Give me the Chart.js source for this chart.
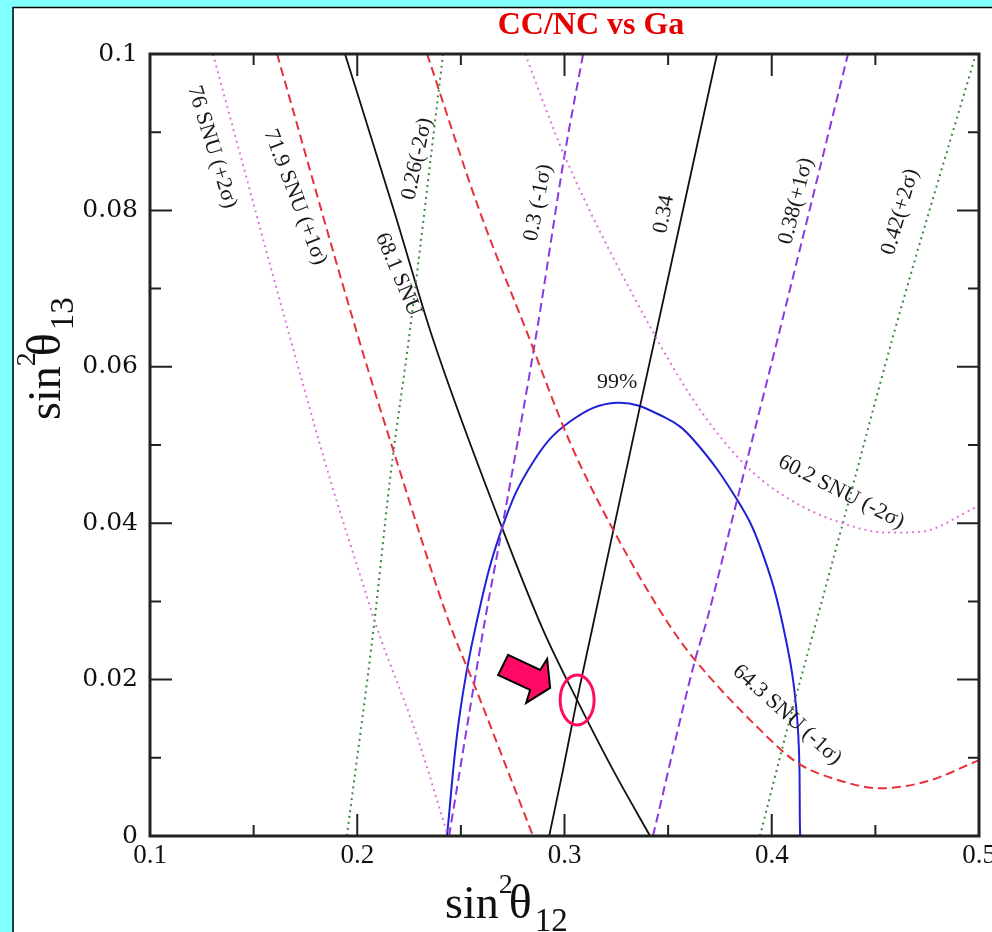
<!DOCTYPE html>
<html>
<head>
<meta charset="utf-8">
<title>CC/NC vs Ga</title>
<script src="https://cdn.jsdelivr.net/npm/chart.js@4.4.1/dist/chart.umd.min.js"></script>
<style>
  html, body { margin: 0; padding: 0; background: #80ffff; }
  canvas { display: block; }
</style>
</head>
<body>
<canvas id="grafico" width="992" height="932"></canvas>
<script>
// [sin^2 theta12, sin^2 theta13] along each contour
const cl99   = [[0.2433,0],[0.2491,0.0149],[0.2573,0.027],[0.2699,0.0394],[0.2848,0.0478],[0.3027,0.053],[0.3254,0.0554],[0.3486,0.0535],[0.3621,0.0507],[0.3833,0.043],[0.3944,0.037],[0.4055,0.0268],[0.4123,0.0149],[0.4137,0]];
const ga681  = [[0.1941,0.1],[0.2177,0.08],[0.2366,0.0635],[0.2699,0.0394],[0.2896,0.0264],[0.306,0.0174],[0.3234,0.00845],[0.3413,0]];
const ga719  = [[0.1613,0.1],[0.2,0.0642],[0.2192,0.0478],[0.2445,0.0272],[0.2568,0.0191],[0.2848,0]];
const ga760  = [[0.1304,0.1],[0.1671,0.0642],[0.1869,0.0456],[0.2047,0.0306],[0.2086,0.0273],[0.2289,0.0127],[0.2438,0]];
const ga643  = [[0.2337,0.1],[0.2592,0.0798],[0.2819,0.0644],[0.3027,0.0503],[0.3234,0.0392],[0.351,0.0268],[0.363,0.0225],[0.3943,0.0136],[0.4127,0.0093],[0.4315,0.0072],[0.4522,0.0061],[0.475,0.007],[0.5,0.0097]];
const ga602  = [[0.281,0.1],[0.3003,0.0868],[0.3447,0.0635],[0.3654,0.0545],[0.3881,0.0472],[0.4089,0.043],[0.433,0.0401],[0.4557,0.0388],[0.4716,0.0389],[0.4991,0.0421]];
const ccnc034 = [[0.2926,0],[0.2993,0.00845],[0.306,0.0174],[0.3133,0.0264],[0.3364,0.0549],[0.3446,0.0648],[0.3736,0.1]];
const ccnc030 = [[0.2443,0],[0.2617,0.0277],[0.2699,0.0394],[0.2868,0.0648],[0.3003,0.0875],[0.309,0.1]];
const ccnc038 = [[0.3427,0],[0.363,0.0225],[0.3688,0.0277],[0.3833,0.043],[0.404,0.0648],[0.4368,0.1]];
const ccnc026 = [[0.195,0],[0.2081,0.027],[0.2158,0.0456],[0.2255,0.0648],[0.2414,0.1]];
const ccnc042 = [[0.3943,0],[0.4074,0.0136],[0.4218,0.0277],[0.4344,0.0401],[0.4595,0.0648],[0.4985,0.1]];

const xTickLabels = ['0.1', '0.2', '0.3', '0.4', '0.5'];
const yTickLabels = ['0', '0.02', '0.04', '0.06', '0.08', '0.1'];

// crossing of the two central lines (68.1 SNU and 0.34)
const bestFit = { x: 0.3061, y: 0.0174 };

const curveLabels = [
  { text: '76 SNU (+2σ)',   x: 0.1299, y: 0.0881, rot: 73 },
  { text: '71.9 SNU (+1σ)', x: 0.1700, y: 0.0817, rot: 69 },
  { text: '68.1 SNU',       x: 0.2197, y: 0.0718, rot: 67 },
  { text: '0.26(-2σ)',      x: 0.2289, y: 0.0866, rot: -78 },
  { text: '0.3 (-1σ)',      x: 0.2873, y: 0.0810, rot: -79 },
  { text: '0.34',           x: 0.3480, y: 0.0795, rot: -79 },
  { text: '0.38(+1σ)',      x: 0.4118, y: 0.0812, rot: -76 },
  { text: '0.42(+2σ)',      x: 0.4620, y: 0.0798, rot: -74 },
  { text: '99%',            x: 0.3254, y: 0.0580, rot: 0 },
  { text: '60.2 SNU (-2σ)', x: 0.4335, y: 0.0440, rot: 27 },
  { text: '64.3 SNU (-1σ)', x: 0.4074, y: 0.0155, rot: 42 }
];

// the closed 99% contour is drawn as a parametric spline, the rest as y(x)
const curves = [
  { pts: ga760,   color: '#dd77dd', dash: [2, 4],  width: 2 },
  { pts: ga602,   color: '#dd77dd', dash: [2, 4],  width: 2 },
  { pts: ccnc026, color: '#3d8a3d', dash: [2, 4],  width: 2 },
  { pts: ccnc042, color: '#3d8a3d', dash: [2, 4],  width: 2 },
  { pts: ga719,   color: '#e8303c', dash: [9, 5],  width: 2 },
  { pts: ga643,   color: '#e8303c', dash: [9, 5],  width: 2 },
  { pts: ccnc030, color: '#8a3ae0', dash: [9, 5],  width: 2 },
  { pts: ccnc038, color: '#8a3ae0', dash: [9, 5],  width: 2 },
  { pts: ga681,   color: '#111111', dash: [],      width: 1.8 },
  { pts: ccnc034, color: '#111111', dash: [],      width: 1.8 },
  { pts: cl99,    color: '#2020d8', dash: [],      width: 2, spline: true }
];

const serif = '"Liberation Serif", "Times New Roman", serif';

function drawTicks(c, a, xs, ys) {
  const major = 22, minor = 11;
  c.strokeStyle = '#222';
  c.lineWidth = 2;
  c.beginPath();
  const xv = xs.ticks.map(t => t.value);
  xv.forEach((v, i) => {
    const px = xs.getPixelForValue(v);
    c.moveTo(px, a.bottom); c.lineTo(px, a.bottom - major);
    c.moveTo(px, a.top); c.lineTo(px, a.top + major);
    if (i < xv.length - 1) {
      const pm = xs.getPixelForValue((v + xv[i + 1]) / 2);
      c.moveTo(pm, a.bottom); c.lineTo(pm, a.bottom - minor);
      c.moveTo(pm, a.top); c.lineTo(pm, a.top + minor);
    }
  });
  const yv = ys.ticks.map(t => t.value);
  yv.forEach((v, i) => {
    const py = ys.getPixelForValue(v);
    c.moveTo(a.left, py); c.lineTo(a.left + major, py);
    c.moveTo(a.right, py); c.lineTo(a.right - major, py);
    if (i < yv.length - 1) {
      const pm = ys.getPixelForValue((v + yv[i + 1]) / 2);
      c.moveTo(a.left, pm); c.lineTo(a.left + minor, pm);
      c.moveTo(a.right, pm); c.lineTo(a.right - minor, pm);
    }
  });
  c.stroke();
}

// sin^2(theta) with an index, drawn from the baseline start point
function drawSinTitle(c, idx) {
  c.fillStyle = '#111';
  c.textAlign = 'left';
  c.textBaseline = 'alphabetic';
  c.font = '46px ' + serif;
  c.fillText('sin', 0, 0);
  const w = c.measureText('sin').width;
  c.font = '28px ' + serif;
  c.fillText('2', w, -25);
  c.font = '48px ' + serif;
  c.fillText('θ', w + 10, 0);
  const wt = c.measureText('θ').width;
  c.font = '33px ' + serif;
  c.fillText(idx, w + 13 + wt, 13);
}

const decor = {
  id: 'decor',
  beforeDraw(chart) {
    const c = chart.ctx;
    c.save();
    c.fillStyle = '#80ffff';
    c.fillRect(0, 0, chart.width, chart.height);
    c.fillStyle = '#ffffff';
    c.fillRect(14, 8, chart.width - 14, chart.height - 8);
    c.strokeStyle = '#000';
    c.lineWidth = 1.5;
    c.beginPath();
    c.moveTo(13, chart.height); c.lineTo(13, 7.5); c.lineTo(chart.width, 7.5);
    c.stroke();
    c.restore();
  },
  afterDatasetsDraw(chart) {
    const c = chart.ctx, a = chart.chartArea;
    const xs = chart.scales.x, ys = chart.scales.y;
    c.save();

    // frame and inward ticks
    drawTicks(c, a, xs, ys);
    c.strokeStyle = '#222';
    c.lineWidth = 3;
    c.strokeRect(a.left, a.top, a.right - a.left, a.bottom - a.top);

    // contour labels
    c.fillStyle = '#1a1a1a';
    c.font = '22px ' + serif;
    c.textAlign = 'center';
    c.textBaseline = 'middle';
    curveLabels.forEach(l => {
      c.save();
      c.translate(xs.getPixelForValue(l.x), ys.getPixelForValue(l.y));
      c.rotate(l.rot * Math.PI / 180);
      c.fillText(l.text, 0, 0);
      c.restore();
    });

    // marker on the crossing point and the arrow pointing at it
    const cx = xs.getPixelForValue(bestFit.x), cy = ys.getPixelForValue(bestFit.y);
    c.strokeStyle = '#ff0a64';
    c.lineWidth = 3;
    c.beginPath();
    c.ellipse(cx, cy, 17, 25, 0, 0, Math.PI * 2);
    c.stroke();

    const arrow = [[-69, -45], [-37, -30], [-30, -41], [-27, -12], [-51, 3], [-47, -10], [-79, -25]];
    c.beginPath();
    arrow.forEach(([dx, dy], i) => i ? c.lineTo(cx + dx, cy + dy) : c.moveTo(cx + dx, cy + dy));
    c.closePath();
    c.fillStyle = '#ff0a64';
    c.fill();
    c.strokeStyle = '#000';
    c.lineWidth = 2;
    c.stroke();

    // title
    c.fillStyle = '#e60000';
    c.font = 'bold 32px ' + serif;
    c.textAlign = 'center';
    c.textBaseline = 'alphabetic';
    c.fillText('CC/NC vs Ga', 591, 34);

    // axis titles
    c.save();
    c.translate(445, 918);
    drawSinTitle(c, '12');
    c.restore();
    c.save();
    c.translate(60, 420);
    c.rotate(-Math.PI / 2);
    drawSinTitle(c, '13');
    c.restore();

    c.restore();
  }
};

new Chart(document.getElementById('grafico'), {
  type: 'scatter',
  data: {
    datasets: curves.map(k => ({
      data: k.pts.map(([x, y]) => ({ x, y })),
      showLine: true,
      borderColor: k.color,
      borderWidth: k.width,
      borderDash: k.dash,
      pointRadius: 0,
      cubicInterpolationMode: k.spline ? 'default' : 'monotone',
      tension: k.spline ? 0.4 : 0,
      fill: false
    }))
  },
  options: {
    responsive: false,
    animation: false,
    events: [],
    layout: { padding: { top: 54, right: 13, left: 0, bottom: 0 } },
    plugins: { legend: { display: false }, tooltip: { enabled: false } },
    scales: {
      x: {
        type: 'linear', min: 0.1, max: 0.5,
        grid: { display: false, drawTicks: false },
        border: { display: false },
        ticks: {
          stepSize: 0.1, padding: 4, color: '#111',
          font: { family: serif, size: 27 },
          callback: (v, i) => xTickLabels[i]
        },
        afterFit(s) { s.height = 96; s.paddingLeft = 0; s.paddingRight = 0; }
      },
      y: {
        type: 'linear', min: 0, max: 0.1,
        grid: { display: false, drawTicks: false },
        border: { display: false },
        ticks: {
          stepSize: 0.02, padding: 12, color: '#111',
          font: { family: '"DejaVu Serif", serif', size: 25 },
          callback: (v, i) => yTickLabels[i]
        },
        afterFit(s) { s.width = 150; s.paddingTop = 0; s.paddingBottom = 0; }
      }
    }
  },
  plugins: [decor]
});
</script>
</body>
</html>
